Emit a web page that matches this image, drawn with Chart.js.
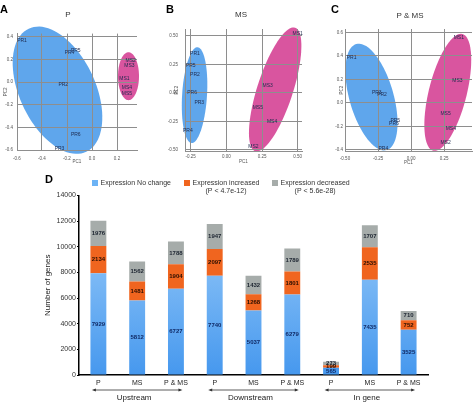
<!DOCTYPE html>
<html>
<head>
<meta charset="utf-8">
<script src="https://cdn.jsdelivr.net/npm/chart.js@4.4.1/dist/chart.umd.min.js"></script>
<style>
  body { margin: 0; background: #fff; font-family: "Liberation Sans", Arial, sans-serif; }
  #fig { position: relative; width: 473px; height: 402px; overflow: hidden; }
  canvas { position: absolute; }
  .lbl { position: absolute; line-height: 1; white-space: nowrap; }
  .letter { font-weight: bold; font-size: 11px; color: #000; }
  .ttl { font-size: 8px; color: #333; transform: translateX(-50%); }
</style>
</head>
<body>
<div id="fig">
  <canvas id="pcaP" width="155" height="170" style="left:0;top:0"></canvas>
  <canvas id="pcaMS" width="155" height="170" style="left:155px;top:0"></canvas>
  <canvas id="pcaPMS" width="163" height="170" style="left:310px;top:0"></canvas>
  <canvas id="genes" width="473" height="237" style="left:0;top:165px"></canvas>
  <div class="lbl letter" style="left:0;top:4px">A</div>
  <div class="lbl letter" style="left:166px;top:4px">B</div>
  <div class="lbl letter" style="left:331px;top:4px">C</div>
  <div class="lbl letter" style="left:45px;top:174px">D</div>
  <div class="lbl ttl" style="left:68px;top:11px">P</div>
  <div class="lbl ttl" style="left:241px;top:11px">MS</div>
  <div class="lbl ttl" style="left:410px;top:12px">P &amp; MS</div>
</div>
<script>
const FONT = '"Liberation Sans", Arial, sans-serif';

// panel A: P
const pNames = ['PR1', 'PR5', 'PR4', 'PR2', 'PR6', 'PR3', 'MS2', 'MS3', 'MS1', 'MS4', 'MS5'];
const pPC1 = [-0.56, -0.13, -0.18, -0.23, -0.13, -0.26, 0.31, 0.30, 0.26, 0.28, 0.28];
const pPC2 = [0.37, 0.28, 0.26, -0.02, -0.46, -0.59, 0.19, 0.15, 0.03, -0.05, -0.10];
const pTicksPC1 = [-0.6, -0.4, -0.2, 0, 0.2];
const pTicksPC2 = [-0.6, -0.4, -0.2, 0, 0.2, 0.4];
// ellipse = centre PC1, centre PC2, axis1 PC1, axis1 PC2, axis2 PC1, axis2 PC2
const pEllipsePR = [-0.276, -0.071, 0.230, -0.545, -0.275, -0.142];
const pEllipseMS = [0.292, 0.053, 0, 0.212, 0.084, 0];

// panel B: MS
const msNames = ['PR1', 'PR5', 'PR2', 'PR6', 'PR3', 'PR4', 'MS1', 'MS3', 'MS5', 'MS4', 'MS2'];
const msPC1 = [-0.22, -0.25, -0.22, -0.24, -0.19, -0.27, 0.50, 0.29, 0.22, 0.32, 0.19];
const msPC2 = [0.34, 0.24, 0.16, 0.0, -0.09, -0.33, 0.52, 0.06, -0.13, -0.25, -0.47];
const msTicksPC1 = [-0.25, 0, 0.25, 0.5];
const msTicksPC2 = [-0.5, -0.25, 0, 0.25, 0.5];
const msEllipsePR = [-0.223, -0.02, 0.021, 0.42, 0.087, -0.007];
const msEllipseMS = [0.342, 0.03, 0.140, 0.542, 0.119, -0.049];

// panel C: P & MS
const pmsNames = ['PR1', 'PR3', 'PR2', 'PR5', 'PR6', 'PR4', 'MS1', 'MS3', 'MS5', 'MS4', 'MS2'];
const pmsPC1 = [-0.45, -0.26, -0.22, -0.12, -0.13, -0.21, 0.36, 0.35, 0.26, 0.30, 0.26];
const pmsPC2 = [0.39, 0.09, 0.07, -0.15, -0.18, -0.39, 0.56, 0.19, -0.09, -0.22, -0.34];
const pmsTicksPC1 = [-0.5, -0.25, 0, 0.25];
const pmsTicksPC2 = [-0.4, -0.2, 0, 0.2, 0.4, 0.6];
const pmsEllipsePR = [-0.30, 0.05, 0.115, -0.452, 0.160, 0.052];
const pmsEllipseMS = [0.277, 0.09, 0.110, 0.497, 0.139, -0.039];

// panel D
const barCategories = ['P', 'MS', 'P & MS', 'P', 'MS', 'P & MS', 'P', 'MS', 'P & MS'];
const regionGroups = ['Upstream', 'Downstream', 'In gene'];
const seriesNames = ['Expression No change', 'Expression increased', 'Expression decreased'];
const seriesNotes = ['', '(P < 4.7e-12)', '(P < 5.6e-28)'];
const noChange = [7929, 5812, 6727, 7740, 5037, 6279, 565, 7435, 3525];
const increased = [2134, 1481, 1904, 2097, 1268, 1801, 199, 2535, 752];
const decreased = [1976, 1562, 1788, 1947, 1432, 1789, 273, 1707, 710];

const BLUE = '#5fa6ec';
const PINK = '#d9559f';

const pcaPlugin = {
    id: 'pca',
    beforeDraw(chart) {
        const { ctx, scales: { x, y } } = chart;
        chart.data.datasets[0].ellipses.forEach(e => {
            const [cx, cy, ax, ay, bx, by] = e.values;
            ctx.save();
            ctx.beginPath();
            for (let i = 0; i <= 90; i++) {
                const t = i / 90 * Math.PI * 2;
                const px = x.getPixelForValue(cx + ax * Math.cos(t) + bx * Math.sin(t));
                const py = y.getPixelForValue(cy + ay * Math.cos(t) + by * Math.sin(t));
                if (i === 0) ctx.moveTo(px, py); else ctx.lineTo(px, py);
            }
            ctx.closePath();
            ctx.fillStyle = e.color;
            ctx.fill();
            ctx.restore();
        });
    },
    afterDatasetsDraw(chart) {
        const ctx = chart.ctx;
        const ds = chart.data.datasets[0];
        ctx.save();
        ctx.font = '5px ' + FONT;
        ctx.fillStyle = '#1e2a4e';
        ctx.textAlign = 'center';
        ctx.textBaseline = 'middle';
        chart.getDatasetMeta(0).data.forEach((pt, i) => {
            ctx.fillText(ds.data[i].name, pt.x, pt.y);
        });
        ctx.restore();
    }
};

function pcaChart(id, names, pc1, pc2, xTicks, yTicks, ellipses, box) {
    const tickFont = { family: FONT, size: 4.5 };
    const gridColor = '#8e8e8e';
    return new Chart(document.getElementById(id), {
        type: 'scatter',
        data: {
            datasets: [{
                data: names.map((n, i) => ({ x: pc1[i], y: pc2[i], name: n })),
                pointRadius: 0,
                ellipses: ellipses
            }]
        },
        options: {
            responsive: false,
            animation: false,
            devicePixelRatio: 1,
            layout: { padding: { top: box.top, right: box.right, left: 0, bottom: 0 } },
            plugins: { legend: { display: false }, tooltip: { enabled: false } },
            scales: {
                x: {
                    min: box.x[0], max: box.x[1],
                    afterBuildTicks: s => { s.ticks = xTicks.map(v => ({ value: v })); },
                    afterFit: s => { s.height = box.xh; },
                    grid: { color: gridColor, drawTicks: false },
                    border: { color: gridColor },
                    ticks: { font: tickFont, color: '#555', padding: box.xPad, maxRotation: 0,
                             callback: v => Number(v).toFixed(box.xDec) },
                    title: { display: true, text: 'PC1', font: tickFont, color: '#555',
                             padding: { top: 0, bottom: box.xTitle } }
                },
                y: {
                    min: box.y[0], max: box.y[1],
                    afterBuildTicks: s => { s.ticks = yTicks.map(v => ({ value: v })); },
                    afterFit: s => { s.width = box.yw; },
                    grid: { color: gridColor, drawTicks: false },
                    border: { color: gridColor },
                    ticks: { font: tickFont, color: '#555', padding: box.yPad,
                             callback: v => Number(v).toFixed(box.yDec) },
                    title: { display: true, text: 'PC2', font: tickFont, color: '#555',
                             padding: { top: box.yTitle, bottom: 0 } }
                }
            }
        },
        plugins: [pcaPlugin]
    });
}

pcaChart('pcaP', pNames, pPC1, pPC2, pTicksPC1, pTicksPC2,
    [{ values: pEllipsePR, color: BLUE }, { values: pEllipseMS, color: PINK }],
    { top: 33.6, right: 18, xh: 20, yw: 17, x: [-0.6, 0.36], y: [-0.6, 0.43],
      xPad: 6.5, yPad: 4, xDec: 1, yDec: 1, xTitle: 5.3, yTitle: 2.8 });

pcaChart('pcaMS', msNames, msPC1, msPC2, msTicksPC1, msTicksPC2,
    [{ values: msEllipsePR, color: BLUE }, { values: msEllipseMS, color: PINK }],
    { top: 29, right: 8, xh: 19, yw: 30, x: [-0.29, 0.53], y: [-0.51, 0.56],
      xPad: 3, yPad: 7, xDec: 2, yDec: 2, xTitle: 5.3, yTitle: 19.3 });

pcaChart('pcaPMS', pmsNames, pmsPC1, pmsPC2, pmsTicksPC1, pmsTicksPC2,
    [{ values: pmsEllipsePR, color: BLUE }, { values: pmsEllipseMS, color: PINK }],
    { top: 29, right: 1, xh: 19, yw: 35, x: [-0.5, 0.46], y: [-0.41, 0.63],
      xPad: 5, yPad: 2, xDec: 2, yDec: 1, xTitle: 4.3, yTitle: 29 });

// stacked bar chart
const seriesColors = ['#6cb3f5', '#f0651f', '#a6acaa'];
const labelColors = ['#102a66', '#2a0e00', '#1c2430'];

function blueFill(c) {
    const area = c.chart.chartArea;
    if (!area) return seriesColors[0];
    const g = c.chart.ctx.createLinearGradient(0, area.top, 0, area.bottom);
    g.addColorStop(0, '#a6d3fb');
    g.addColorStop(1, '#4698ee');
    return g;
}

const genePlugin = {
    id: 'genes',
    afterDatasetsDraw(chart) {
        const ctx = chart.ctx;
        ctx.save();
        ctx.font = 'bold 6px ' + FONT;
        ctx.textAlign = 'center';
        ctx.textBaseline = 'middle';
        chart.data.datasets.forEach((ds, d) => {
            ctx.fillStyle = labelColors[d];
            chart.getDatasetMeta(d).data.forEach((bar, i) => {
                ctx.fillText(String(ds.data[i]), bar.x, (bar.y + bar.base) / 2);
            });
        });
        ctx.restore();
    },
    afterDraw(chart) {
        const { ctx, chartArea, scales: { x } } = chart;
        ctx.save();
        // region arrows and names
        const ay = chartArea.bottom + 15;
        ctx.strokeStyle = '#333';
        ctx.fillStyle = '#333';
        ctx.lineWidth = 0.8;
        regionGroups.forEach((name, g) => {
            const x0 = x.getPixelForValue(g * 3) - 6.5;
            const x1 = x.getPixelForValue(g * 3 + 2) + 6.5;
            ctx.beginPath();
            ctx.moveTo(x0 + 2, ay);
            ctx.lineTo(x1 - 2, ay);
            ctx.stroke();
            ctx.beginPath();
            ctx.moveTo(x0, ay); ctx.lineTo(x0 + 4, ay - 1.6); ctx.lineTo(x0 + 4, ay + 1.6); ctx.closePath();
            ctx.moveTo(x1, ay); ctx.lineTo(x1 - 4, ay - 1.6); ctx.lineTo(x1 - 4, ay + 1.6); ctx.closePath();
            ctx.fill();
            ctx.font = '8px ' + FONT;
            ctx.fillStyle = '#222';
            ctx.textAlign = 'center';
            ctx.textBaseline = 'middle';
            ctx.fillText(name, x.getPixelForValue(g * 3 + 1) - 3, ay + 7.5);
            ctx.fillStyle = '#333';
        });
        // legend
        const legendX = [92, 184, 272];
        ctx.font = '7px ' + FONT;
        ctx.textBaseline = 'middle';
        seriesNames.forEach((name, i) => {
            ctx.fillStyle = seriesColors[i];
            ctx.fillRect(legendX[i], 15, 6, 6);
            ctx.fillStyle = '#333';
            ctx.textAlign = 'left';
            const tx = legendX[i] + 8.5;
            ctx.fillText(name, tx, 18);
            if (seriesNotes[i]) {
                const w = ctx.measureText(name).width;
                ctx.textAlign = 'center';
                ctx.fillText(seriesNotes[i], tx + w / 2, 26);
            }
        });
        ctx.restore();
    }
};

new Chart(document.getElementById('genes'), {
    type: 'bar',
    data: {
        labels: barCategories,
        datasets: [
            { label: seriesNames[0], data: noChange, backgroundColor: blueFill },
            { label: seriesNames[1], data: increased, backgroundColor: seriesColors[1] },
            { label: seriesNames[2], data: decreased, backgroundColor: seriesColors[2] }
        ]
    },
    options: {
        responsive: false,
        animation: false,
        devicePixelRatio: 1,
        barPercentage: 0.41,
        categoryPercentage: 1,
        layout: { padding: { left: 40, top: 30.5, right: 45, bottom: 0 } },
        plugins: { legend: { display: false }, tooltip: { enabled: false } },
        scales: {
            x: {
                stacked: true,
                afterFit: s => { s.height = 27; },
                grid: { drawOnChartArea: false, drawTicks: false },
                border: { color: '#000', width: 1.5 },
                ticks: { font: { family: FONT, size: 7 }, color: '#222', padding: 4, maxRotation: 0 }
            },
            y: {
                stacked: true,
                min: 0,
                max: 14000,
                afterFit: s => { s.width = 39; },
                grid: { drawOnChartArea: false, tickLength: 2, color: '#000' },
                border: { color: '#000', width: 1.5 },
                ticks: { stepSize: 2000, font: { family: FONT, size: 7 }, color: '#333', padding: 1,
                         callback: v => String(v) },
                title: { display: true, text: 'Number of genes', font: { family: FONT, size: 8 },
                         color: '#222', padding: { top: 3, bottom: 0 } }
            }
        }
    },
    plugins: [genePlugin]
});
</script>
</body>
</html>
